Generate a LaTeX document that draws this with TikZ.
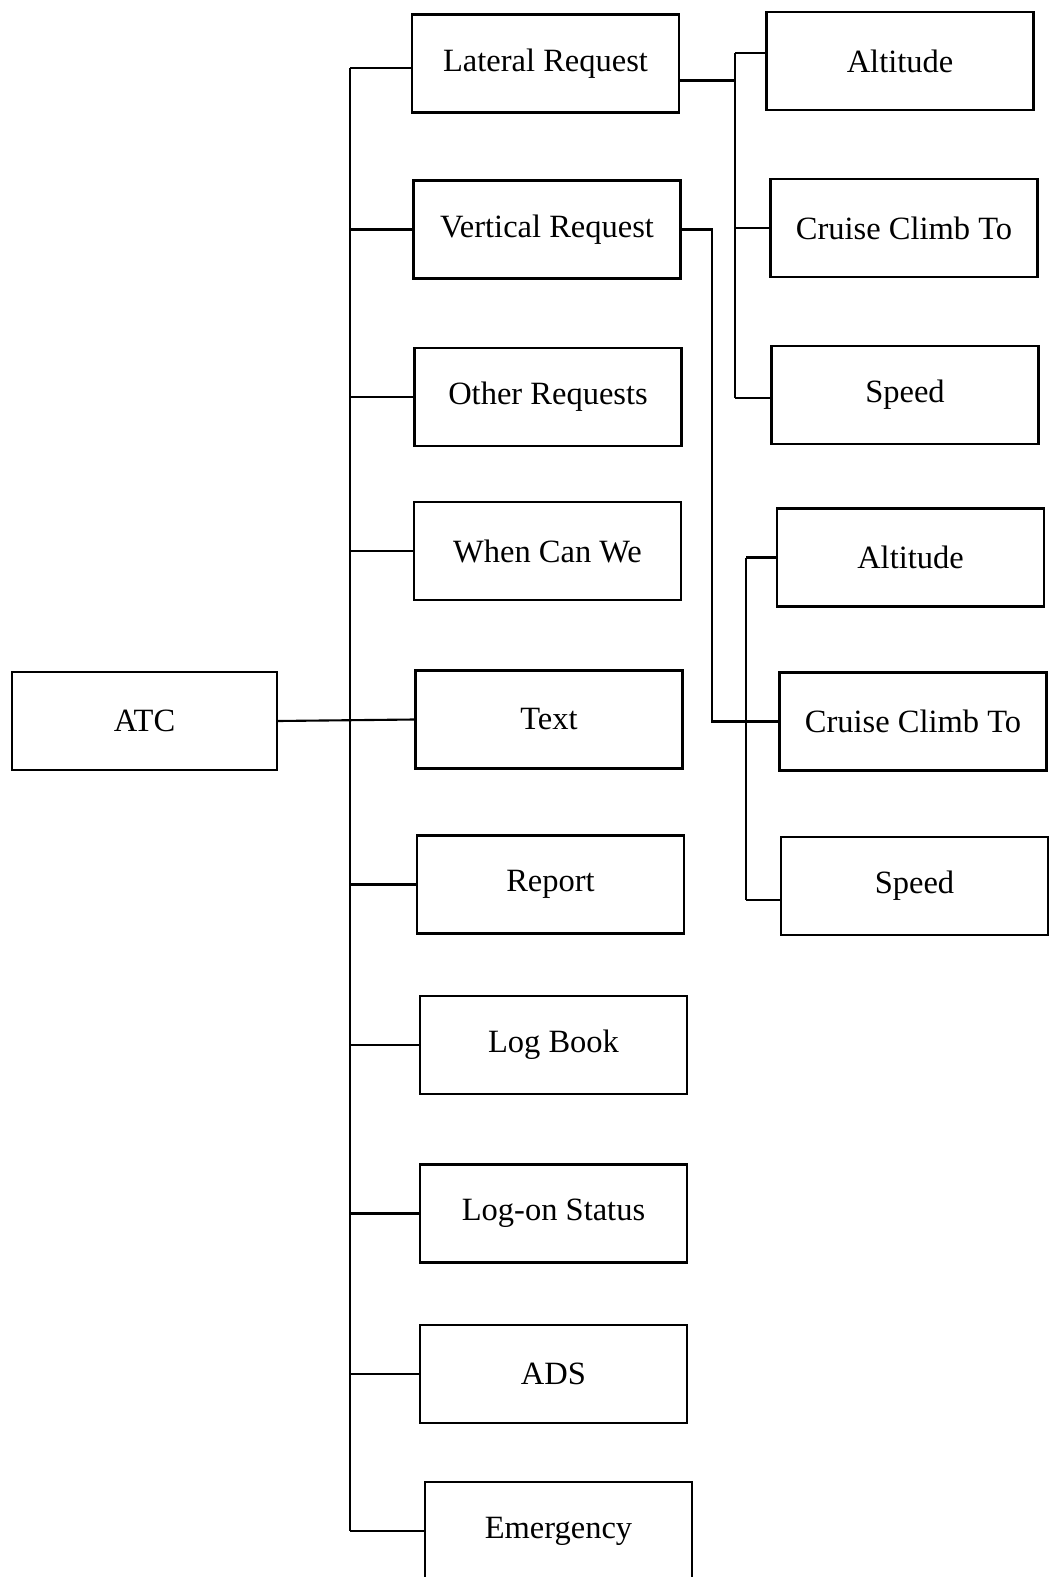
\documentclass[tikz,border=0pt]{standalone}
\usepackage{fontspec}
\setmainfont{Liberation Serif}
\usepackage{tikz}
\usetikzlibrary{positioning, calc}

\begin{document}
\begin{tikzpicture}[
  x=0.02cm, y=-0.02cm,
  every node/.style={font=\fontsize{18.5}{22}\selectfont},
  box/.style={
    draw, line width=1.2pt, minimum width=5.34cm, minimum height=1.96cm,
    inner sep=0pt, align=center
  },
  link/.style={line width=1.2pt}
]
  \useasboundingbox (0,0) rectangle (1053,1577);
  \clip (0,0) rectangle (1053,1577);

  % Radice
\node[box, minimum width=5.3cm] (atc) at (144.5, 721) {ATC};

  % Menu principale
\node[box] (lat) at (545.5, 63.5) {Lateral Request};
\node[box] (vert) at (547, 229.5) {Vertical Request};
\node[box] (other) at (548, 397) {Other Requests};
\node[box] (when) at (547.5, 551) {When Can We};
\node[box] (text) at (549, 719.5) {Text};
\node[box] (report) at (550.5, 884.5) {Report};
\node[box] (logbook) at (553.5, 1045) {Log Book};
\node[box] (logon) at (553.5, 1213.5) {Log-on Status};
\node[box] (ads) at (553.5, 1374) {ADS};
\node[box] (emerg) at (558.5, 1531) {Emergency};

  % Sottomenu laterale
\node[box] (alt1) at (900, 61) {Altitude};
\node[box] (ccl1) at (904, 228) {Cruise Climb To};
\node[box] (spd1) at (905, 395) {Speed};

  % Sottomenu verticale
\node[box] (alt2) at (910.5, 557.5) {Altitude};
\node[box] (ccl2) at (913, 721.5) {Cruise Climb To};
\node[box] (spd2) at (914.5, 886) {Speed};

\coordinate (trunk) at (350, 0);
\coordinate (latbus) at (735, 0);
\coordinate (vertdrop) at (712, 0);
\coordinate (vertbus) at (746, 0);

  % Tronco principale
  \draw[link] (atc.east) -- (text.west);
  \draw[link] ([yshift=-0.09cm]lat.west -| trunk) -- (emerg.west -| trunk);
  \draw[link] ([yshift=-0.09cm]lat.west) -- ([yshift=-0.09cm]lat.west -| trunk);
  \foreach \b in {vert, other, when, report, logbook, logon, ads, emerg}
    \draw[link] (\b.west) -- (\b.west -| trunk);

  % Rami laterali
  \draw[link] ([yshift=-0.34cm]lat.east) -- ([yshift=-0.34cm]lat.east -| latbus);
  \draw[link] ([yshift=0.16cm]alt1.west -| latbus) -- ([yshift=-0.06cm]spd1.west -| latbus);
  \draw[link] ([yshift=0.16cm]alt1.west) -- ([yshift=0.16cm]alt1.west -| latbus);
  \draw[link] (ccl1.west) -- (ccl1.west -| latbus);
  \draw[link] ([yshift=-0.06cm]spd1.west) -- ([yshift=-0.06cm]spd1.west -| latbus);

  % Rami verticali
  \draw[link] (vert.east) -- (vert.east -| vertdrop) |- (ccl2.west);
  \draw[link] (alt2.west -| vertbus) -- ([yshift=-0.28cm]spd2.west -| vertbus);
  \draw[link] (alt2.west) -- (alt2.west -| vertbus);
  \draw[link] ([yshift=-0.28cm]spd2.west) -- ([yshift=-0.28cm]spd2.west -| vertbus);

\end{tikzpicture}
\end{document}
